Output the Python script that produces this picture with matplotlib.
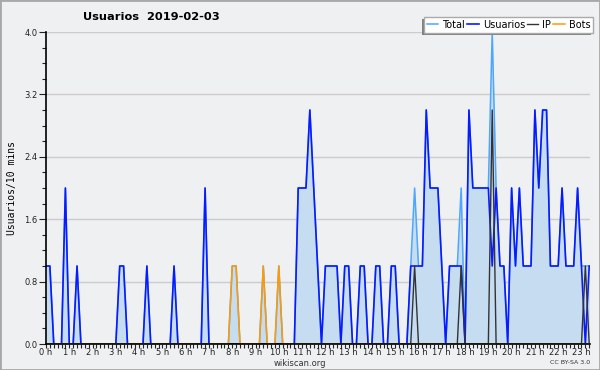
import numpy as np
from matplotlib import pyplot as plt
from matplotlib.patches import Rectangle

# values per 10 minutes, from 0:00 to 23:20
usuarios = [1, 1, 0, 0, 0, 2, 0, 0, 1, 0,
            0, 0, 0, 0, 0, 0, 0, 0, 0, 1,
            1, 0, 0, 0, 0, 0, 1, 0, 0, 0,
            0, 0, 0, 1, 0, 0, 0, 0, 0, 0,
            0, 2, 0, 0, 0, 0, 0, 0, 0, 0,
            0, 0, 0, 0, 0, 0, 0, 0, 0, 0,
            0, 0, 0, 0, 0, 2, 2, 2, 3, 2,
            1, 0, 1, 1, 1, 1, 0, 1, 1, 0,
            0, 1, 1, 0, 0, 1, 1, 0, 0, 1,
            1, 0, 0, 0, 1, 1, 1, 1, 3, 2,
            2, 2, 1, 0, 1, 1, 1, 1, 0, 3,
            2, 2, 2, 2, 2, 1, 2, 1, 1, 0,
            2, 1, 2, 1, 1, 1, 3, 2, 3, 3,
            1, 1, 1, 2, 1, 1, 1, 2, 1, 0,
            1]
ip_idx = [95, 107, 115, 139]
ip_val = [1, 1, 3, 1]
bots_idx = [48, 49, 56, 60]
bots_val = [1, 1, 1, 1]
hours = [str(h) + " h" for h in range(24)]

n = len(usuarios)
x = np.arange(n)
usu = np.array(usuarios, dtype=float)
ip = np.zeros(n)
ip[ip_idx] = ip_val
bots = np.zeros(n)
bots[bots_idx] = bots_val
total = usu + ip + bots

bg = "#eff0f2"
fig = plt.figure(figsize=(6, 3.7), dpi=100, facecolor=bg)
ax = fig.add_axes([46/600, 26/370, 544/600, 312/370], facecolor=bg)

ax.fill_between(x, 0, total, color="#c6dcf0", lw=0)
ax.plot(x, total, color="#4da6ff", lw=1.1, label="Total")
ax.plot(x, usu, color="#0a1aff", lw=1.2, label="Usuarios")
ax.plot(x, ip, color="#333333", lw=1.0, label="IP")
ax.plot(x, bots, color="#ff9a00", lw=1.1, label="Bots")

ax.set_xlim(0, 140.2)
ax.set_ylim(0, 4.0)
ax.set_xticks(np.arange(0, n, 6))
ax.set_xticklabels(hours[:len(np.arange(0, n, 6))])
ax.set_xticks(x, minor=True)
ax.set_yticks(np.arange(0, 4.01, 0.8))
ax.set_yticklabels(["%.1f" % v for v in np.arange(0, 4.01, 0.8)])
ax.set_yticks(np.arange(0, 4.01, 0.2), minor=True)
ax.tick_params(axis="both", which="both", direction="out", labelsize=6,
               colors="#222222", width=0.8, pad=1)
ax.tick_params(axis="x", which="both", length=3, pad=0)
ax.tick_params(axis="y", which="major", length=5)
ax.tick_params(axis="y", which="minor", length=3)
ax.grid(True, axis="y", color="#cccccc", lw=1)
ax.set_axisbelow(True)
for s in ["top", "right"]:
    ax.spines[s].set_visible(False)
for s in ["left", "bottom"]:
    ax.spines[s].set_color("black")
    ax.spines[s].set_linewidth(1.2)
    ax.spines[s].set_zorder(5)

ax.set_ylabel("Usuarios/10 mins", family="DejaVu Sans Mono", fontsize=7, labelpad=5)
fig.text(151/600, 1 - 17/370, "Usuarios  2019-02-03", ha="center", va="center",
         fontsize=8.2, fontweight="bold")
fig.text(300/600, 1 - 363/370, "wikiscan.org", ha="center", va="center",
         fontsize=6, color="#333333")
fig.text(590/600, 1 - 363/370, "CC BY-SA 3.0", ha="right", va="center",
         fontsize=4.5, color="#333333")

leg = fig.legend(loc="upper right", bbox_to_anchor=(593.3/600, 1 - 16.7/370),
                 ncol=4, fontsize=7, frameon=True, fancybox=False,
                 handlelength=1.2, handletextpad=0.4, columnspacing=0.2,
                 borderpad=0.3, borderaxespad=0)
leg.get_frame().set_edgecolor("#aaaaaa")
leg.get_frame().set_facecolor("white")
leg.get_frame().set_alpha(1)
leg.set_zorder(10)

fig.canvas.draw()
bb = leg.get_window_extent().transformed(fig.transFigure.inverted())
fig.patches.append(Rectangle((bb.x0 - 2/600, bb.y0 - 2/370), bb.width, bb.height,
                             transform=fig.transFigure, facecolor="#808080",
                             edgecolor="none", zorder=9))
fig.patches.append(Rectangle((0, 0), 1, 1, transform=fig.transFigure, fill=False,
                             edgecolor="#a8a8a8", lw=2, zorder=20))

fig.savefig("out.png", dpi=100, facecolor=bg)
